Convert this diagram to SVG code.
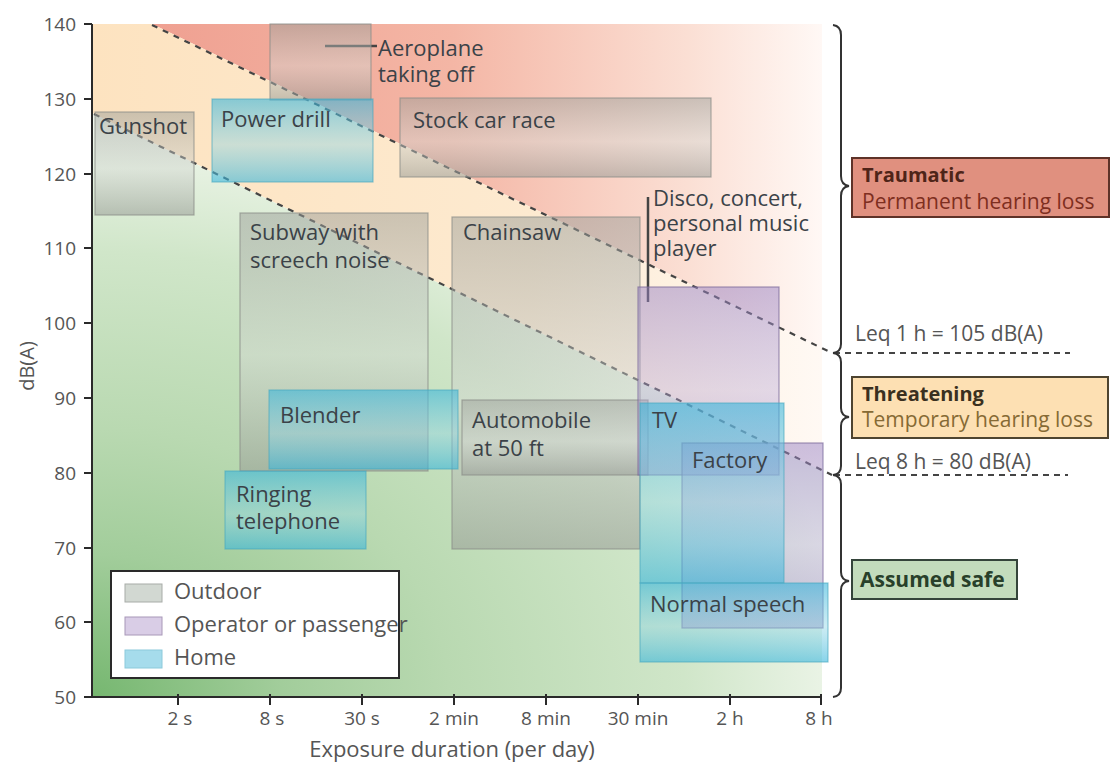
<svg xmlns="http://www.w3.org/2000/svg" width="1111" height="762" viewBox="0 0 1111 762">
<defs>
<linearGradient id="gRed" gradientUnits="userSpaceOnUse" x1="150" y1="0" x2="822" y2="0">
<stop offset="0" stop-color="#efa091"/><stop offset="0.45" stop-color="#f4b6a5"/><stop offset="0.8" stop-color="#fbdfd4"/><stop offset="1" stop-color="#fff8f5"/>
</linearGradient>
<linearGradient id="gCream" gradientUnits="userSpaceOnUse" x1="92" y1="0" x2="822" y2="0">
<stop offset="0" stop-color="#fde3c0"/><stop offset="0.6" stop-color="#fdead0"/><stop offset="1" stop-color="#fff9f4"/>
</linearGradient>
<radialGradient id="gGreen" gradientUnits="userSpaceOnUse" cx="92" cy="697" r="760" gradientTransform="translate(92 697) scale(1 0.75) translate(-92 -697)">
<stop offset="0" stop-color="#76b770"/><stop offset="0.25" stop-color="#a2cd9b"/><stop offset="0.47" stop-color="#b9d9b1"/><stop offset="0.78" stop-color="#d0e6c9"/><stop offset="1" stop-color="#eff6eb"/>
</radialGradient>
<linearGradient id="gOut" x1="0" y1="0" x2="0" y2="1">
<stop offset="0" stop-color="#9a9d98" stop-opacity="0.5"/><stop offset="0.55" stop-color="#d2d5d1" stop-opacity="0.45"/><stop offset="1" stop-color="#989b96" stop-opacity="0.55"/>
</linearGradient>
<linearGradient id="gHome" x1="0" y1="0" x2="0" y2="1">
<stop offset="0" stop-color="#38b6dc" stop-opacity="0.6"/><stop offset="0.55" stop-color="#8ed5e6" stop-opacity="0.45"/><stop offset="1" stop-color="#38b6dc" stop-opacity="0.6"/>
</linearGradient>
<linearGradient id="gOp" x1="0" y1="0" x2="0" y2="1">
<stop offset="0" stop-color="#9882c4" stop-opacity="0.5"/><stop offset="0.55" stop-color="#b8a8d8" stop-opacity="0.4"/><stop offset="1" stop-color="#9882c4" stop-opacity="0.5"/>
</linearGradient>
</defs>
<style>
text{font-family:"Open Sans","Noto Sans","Liberation Sans",sans-serif}
.lbl{font-size:22px;fill:#3b4248}
.tick{font-size:19px;fill:#555}
.out{fill:url(#gOut);stroke:#8a8d88;stroke-opacity:0.7;stroke-width:1.2}
.home{fill:url(#gHome);stroke:#4aa8be;stroke-opacity:0.6;stroke-width:1.2}
.op{fill:url(#gOp);stroke:#7a6a9a;stroke-opacity:0.7;stroke-width:1.2}
.dash{stroke:#444;stroke-width:2.2;stroke-dasharray:6 6;fill:none}
.hdash{stroke:#444;stroke-width:1.8;stroke-dasharray:6 5;fill:none}
.axis{stroke:#2a2a2a;stroke-width:2;fill:none}
.brace{stroke:#333;stroke-width:2;fill:none}
.lead{stroke:#444;stroke-width:2.5}
</style>
<rect width="1111" height="762" fill="#ffffff"/>
<g id="zones">
<polygon points="152,24 822,24 822,348" fill="url(#gRed)"/>
<polygon points="92,24 152,24 822,348 822,471 92,113" fill="url(#gCream)"/>
<polygon points="92,113 822,471 822,697 92,697" fill="url(#gGreen)"/>
</g>
<g id="connectors">
<line class="dash" x1="152" y1="25" x2="832" y2="353"/>
<line class="dash" x1="94" y1="114" x2="832" y2="475"/>
<line class="hdash" x1="834" y1="353" x2="1070" y2="353"/>
<line class="hdash" x1="834" y1="475" x2="1068" y2="475"/>
<line class="lead" x1="325" y1="46" x2="377" y2="46"/>
<line class="lead" x1="648" y1="197" x2="648" y2="302"/>
</g>
<g id="outdoor-boxes">
<g id="gunshot"><rect class="out" x="95" y="112" width="99" height="103"/></g>
<g id="aeroplane"><rect class="out" x="270" y="24" width="101" height="76"/></g>
<g id="stockcar"><rect class="out" x="400" y="98" width="311" height="79"/></g>
<g id="subway"><rect class="out" x="240" y="213" width="188" height="258"/></g>
<g id="chainsaw"><rect class="out" x="452" y="217" width="188" height="332"/></g>
<g id="automobile"><rect class="out" x="462" y="400" width="186" height="75"/></g>
</g>
<g id="operator-boxes">
<g id="disco"><rect class="op" x="638" y="287" width="141" height="188"/></g>
<g id="factory"><rect class="op" x="682" y="443" width="141" height="185"/></g>
</g>
<g id="home-boxes">
<g id="powerdrill"><rect class="home" x="212" y="99" width="161" height="83"/></g>
<g id="blender"><rect class="home" x="269" y="390" width="189" height="79"/></g>
<g id="telephone"><rect class="home" x="225" y="471" width="141" height="78"/></g>
<g id="tv"><rect class="home" x="640" y="403" width="144" height="180"/></g>
<g id="speech"><rect class="home" x="640" y="583" width="188" height="79"/></g>
</g>
<g id="labels">
<text class="lbl" x="99" y="134">Gunshot</text>
<text class="lbl" x="378" y="56">Aeroplane</text>
<text class="lbl" x="378" y="82">taking off</text>
<text class="lbl" x="221" y="127">Power drill</text>
<text class="lbl" x="413" y="128">Stock car race</text>
<text class="lbl" x="250" y="240">Subway with</text>
<text class="lbl" x="250" y="268">screech noise</text>
<text class="lbl" x="463" y="240">Chainsaw</text>
<text class="lbl" x="653" y="206">Disco, concert,</text>
<text class="lbl" x="653" y="231">personal music</text>
<text class="lbl" x="653" y="256">player</text>
<text class="lbl" x="280" y="423">Blender</text>
<text class="lbl" x="472" y="428">Automobile</text>
<text class="lbl" x="472" y="456">at 50 ft</text>
<text class="lbl" x="652" y="428">TV</text>
<text class="lbl" x="692" y="468">Factory</text>
<text class="lbl" x="236" y="502">Ringing</text>
<text class="lbl" x="236" y="529">telephone</text>
<text class="lbl" x="650" y="612">Normal speech</text>
</g>
<g id="axes">
<path class="axis" d="M92,24 V697 H822"/>
<g stroke="#2a2a2a" stroke-width="2">
<line x1="84" y1="24" x2="92" y2="24"/><line x1="84" y1="99" x2="92" y2="99"/><line x1="84" y1="174" x2="92" y2="174"/><line x1="84" y1="248" x2="92" y2="248"/><line x1="84" y1="323" x2="92" y2="323"/><line x1="84" y1="398" x2="92" y2="398"/><line x1="84" y1="473" x2="92" y2="473"/><line x1="84" y1="548" x2="92" y2="548"/><line x1="84" y1="622" x2="92" y2="622"/><line x1="84" y1="697" x2="92" y2="697"/>
<line x1="178" y1="694" x2="178" y2="705"/><line x1="270" y1="694" x2="270" y2="705"/><line x1="362" y1="694" x2="362" y2="705"/><line x1="454" y1="694" x2="454" y2="705"/><line x1="546" y1="694" x2="546" y2="705"/><line x1="638" y1="694" x2="638" y2="705"/><line x1="730" y1="694" x2="730" y2="705"/><line x1="821" y1="694" x2="821" y2="705"/>
</g>
<g class="tick" text-anchor="end">
<text x="76" y="31">140</text><text x="76" y="106">130</text><text x="76" y="181">120</text><text x="76" y="255">110</text><text x="76" y="330">100</text><text x="76" y="405">90</text><text x="76" y="480">80</text><text x="76" y="555">70</text><text x="76" y="629">60</text><text x="76" y="704">50</text>
</g>
<g class="tick" text-anchor="middle">
<text x="180" y="725">2 s</text><text x="272" y="725">8 s</text><text x="362" y="725">30 s</text><text x="454" y="725">2 min</text><text x="546" y="725">8 min</text><text x="638" y="725">30 min</text><text x="730" y="725">2 h</text><text x="819" y="725">8 h</text>
</g>
<text x="452" y="757" text-anchor="middle" style="font-size:22px;fill:#555">Exposure duration (per day)</text>
<text transform="translate(34,366) rotate(-90)" text-anchor="middle" style="font-size:20px;fill:#555">dB(A)</text>
</g>
<g id="braces">
<path class="brace" d="M833,25 Q841,26 841,35 L841,176 Q841,185 849,186 Q841,187 841,196 L841,344 Q841,352 833,353"/>
<path class="brace" d="M833,353 Q841,354 841,362 L841,408 Q841,416 849,417 Q841,418 841,426 L841,466 Q841,474 833,475"/>
<path class="brace" d="M833,475 Q841,476 841,484 L841,572 Q841,580 849,581 Q841,582 841,590 L841,688 Q841,696 833,697"/>
</g>
<g id="traumatic">
<rect x="852" y="158" width="257" height="59" fill="#e0907f" stroke="#5e3228" stroke-width="2"/>
<text x="862" y="182" style="font-size:20px;font-weight:bold;fill:#4e2418">Traumatic</text>
<text x="862" y="209" style="font-size:21px;fill:#7e2e20">Permanent hearing loss</text>
</g>
<g id="threatening">
<rect x="852" y="377" width="256" height="61" fill="#fde0b3" stroke="#4e4430" stroke-width="2"/>
<text x="862" y="401" style="font-size:20px;font-weight:bold;fill:#3a3020">Threatening</text>
<text x="862" y="427" style="font-size:21px;fill:#866a34">Temporary hearing loss</text>
</g>
<g id="safe">
<rect x="852" y="560" width="165" height="39" fill="#c3dcbc" stroke="#34443a" stroke-width="2"/>
<text x="860" y="587" style="font-size:21px;font-weight:bold;fill:#28402a">Assumed safe</text>
</g>
<g id="leq">
<text x="855" y="341" style="font-size:21px;fill:#555">Leq 1 h = 105 dB(A)</text>
<text x="855" y="469" style="font-size:21px;fill:#555">Leq 8 h = 80 dB(A)</text>
</g>
<g id="legend">
<rect x="111" y="571" width="288" height="107" fill="#ffffff" stroke="#2a2a2a" stroke-width="2"/>
<rect x="125" y="584" width="37" height="18" fill="#d2d8d2" stroke="#a8aca8"/>
<rect x="125" y="617" width="37" height="18" fill="#d9cde6" stroke="#a898b8"/>
<rect x="125" y="650" width="37" height="18" fill="#a6dcec" stroke="#8ccadb"/>
<text class="lbl" x="174" y="599" style="fill:#555">Outdoor</text>
<text class="lbl" x="174" y="632" style="fill:#555">Operator or passenger</text>
<text class="lbl" x="174" y="665" style="fill:#555">Home</text>
</g>
</svg>
